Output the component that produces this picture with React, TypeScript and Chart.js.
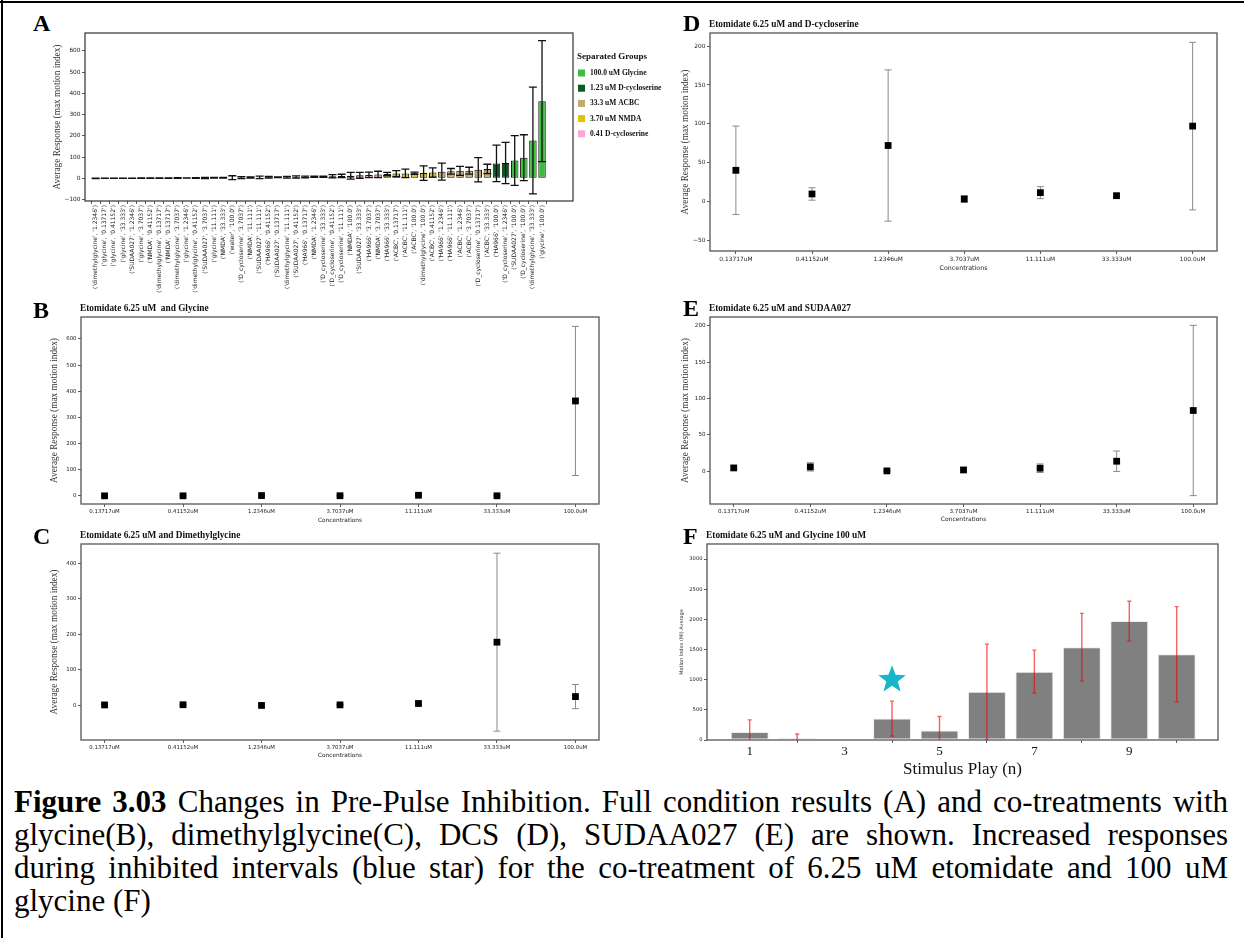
import React, { useEffect, useRef } from "react";
import { Chart, registerables } from "chart.js";

Chart.register(...registerables);

const SERIF = "'Liberation Serif', 'Times New Roman', serif";
const SANS = "'DejaVu Sans', sans-serif";

// ---------------- Panel A : all conditions, sorted ----------------
const labelsA = [
  "('dimethylglycine', '1.2346')", "('glycine', '0.13717')", "('glycine', '0.41152')", "('glycine', '33.333')",
  "('SUDAA027', '1.2346')", "('glycine', '3.7037')", "('NMDA', '0.41152')", "('dimethylglycine', '0.13717')",
  "('NMDA', '0.13717')", "('dimethylglycine', '3.7037')", "('glycine', '1.2346')", "('dimethylglycine', '0.41152')",
  "('SUDAA027', '3.7037')", "('glycine', '11.111')", "('NMDA', '33.333')", "('water', '100.0')",
  "('D_cycloserine', '3.7037')", "('NMDA', '11.111')", "('SUDAA027', '11.111')", "('HA966', '0.41152')",
  "('SUDAA027', '0.13717')", "('dimethylglycine', '11.111')", "('SUDAA027', '0.41152')", "('HA966', '0.13717')",
  "('NMDA', '1.2346')", "('D_cycloserine', '33.333')", "('D_cycloserine', '0.41152')", "('D_cycloserine', '11.111')",
  "('NMDA', '100.0')", "('SUDAA027', '33.333')", "('HA966', '3.7037')", "('NMDA', '3.7037')",
  "('HA966', '33.333')", "('ACBC', '0.13717')", "('ACBC', '11.111')", "('ACBC', '100.0')",
  "('dimethylglycine', '100.0')", "('ACBC', '0.41152')", "('HA966', '1.2346')", "('HA966', '11.111')",
  "('ACBC', '1.2346')", "('ACBC', '3.7037')", "('D_cycloserine', '0.13717')", "('ACBC', '33.333')",
  "('HA966', '100.0')", "('D_cycloserine', '1.2346')", "('SUDAA027', '100.0')", "('D_cycloserine', '100.0')",
  "('dimethylglycine', '33.333')", "('glycine', '100.0')",
];
const meansA = [
  -0.5, 0.2, 0.3, 0.4, 0.5, 0.6, 0.8, 0.9, 1.0, 1.1, 1.3, 1.5, 1.8, 2.4, 2.6, 2.8,
  3.0, 3.5, 4.2, 4.4, 4.6, 5.0, 6.0, 6.4, 6.8, 7.3, 9.5, 11.2, 12.0, 13.8, 16.0, 18.0,
  20.0, 22.0, 23.0, 24.0, 24.5, 27.0, 31.0, 33.0, 35.0, 36.0, 40.0, 44.0, 70.0, 72.0,
  83.5, 97.0, 178.0, 363.0,
];
const errsA = [
  0.8, 0.5, 0.5, 0.6, 0.6, 0.6, 1, 1, 1.2, 1.5, 1, 1.5, 2.8, 1.5, 2, 9,
  4.2, 3, 5.9, 4, 1.8, 4, 5.7, 4, 3, 2.8, 8, 7.7, 16, 14, 13, 15,
  8, 14, 20, 5, 34, 22, 40, 13, 21, 16, 57, 22, 86, 97,
  117, 108, 251, 285,
];
// group membership of each bar (0 = not in a separated group)
const groupA = [
  0, 0, 0, 0, 0, 0, 0, 0, 0, 0, 0, 0, 0, 0, 0, 0, 0, 0, 0, 0, 0, 0, 0, 0, 0, 0, 0,
  1, 1, 1, 1, 1,
  2, 2, 2, 2, 2, 2,
  3, 3, 3, 3, 3, 3,
  4, 4,
  5, 5, 5, 5,
];
const groupColors = ["#767676", "#f7a8d6", "#e0c20c", "#c2aa6c", "#0b5c1f", "#3dbd3d"];
const legendTitleA = "Separated Groups";
const legendNamesA = ["100.0 uM Glycine", "1.23 uM D-cycloserine", "33.3 uM ACBC", "3.70 uM NMDA", "0.41 D-cycloserine"];
const legendGroupsA = [5, 4, 3, 2, 1];
const yTicksA = [-100, 0, 100, 200, 300, 400, 500, 600];

// ---------------- Panels B-E : concentration series ----------------
const concLabels = ["0.13717uM", "0.41152uM", "1.2346uM", "3.7037uM", "11.111uM", "33.333uM", "100.0uM"];
const concIndex = [0, 1, 2, 3, 4, 5, 6];

const glyMeans = [0.2, 0.3, 1.3, 0.6, 2.4, 0.4, 363];
const glyErrs = [0.5, 0.5, 1, 0.6, 1.5, 0.6, 285];
const yTicksB = [0, 100, 200, 300, 400, 500, 600];

const dmgMeans = [0.9, 1.5, -0.5, 1.1, 5.0, 178, 24.5];
const dmgErrs = [1, 1.5, 0.8, 1.5, 4, 251, 34];
const yTicksC = [0, 100, 200, 300, 400];

const dcsMeans = [40, 9.5, 72, 3, 11.2, 7.3, 97];
const dcsErrs = [57, 8, 97.5, 4.2, 7.7, 2.8, 108];
const yTicksD = [-50, 0, 50, 100, 150, 200];

const sudMeans = [4.6, 6, 0.5, 1.8, 4.2, 13.8, 83.5];
const sudErrs = [1.8, 5.7, 0.6, 2.8, 5.9, 14, 117];
const yTicksE = [0, 50, 100, 150, 200];

// ---------------- Panel F : stimulus plays ----------------
const playN = [1, 2, 3, 4, 5, 6, 7, 8, 9, 10];
const fMeans = [133, 33, 0, 356, 156, 800, 1133, 1539, 1972, 1422];
const fErrs = [200, 67, 0, 289, 233, 789, 358, 561, 328, 789];
const xTicksF = [1, 3, 5, 7, 9];
const yTicksF = [0, 500, 1000, 1500, 2000, 2500, 3000];
const starPlay = 4;
const starValue = 1000;

const captionLines = [
  "Changes in Pre-Pulse Inhibition. Full condition results (A) and co-treatments with",
  "glycine(B), dimethylglycine(C), DCS (D), SUDAA027 (E) are shown. Increased responses",
  "during inhibited intervals (blue star) for the co-treatment of 6.25 uM etomidate and 100 uM",
  "glycine (F)",
];

// ---------------- helpers ----------------
const fmt = (v: number) => String(v).replace("-", "\u2212");

function drawErrors(chart: any, e: any) {
  const { ctx, chartArea: a } = chart;
  const meta = chart.getDatasetMeta(0);
  const ys = chart.scales.y;
  const data = chart.data.datasets[0].data;
  ctx.save();
  ctx.beginPath();
  ctx.rect(a.left, a.top, a.right - a.left, a.bottom - a.top);
  ctx.clip();
  ctx.strokeStyle = e.color;
  ctx.lineWidth = e.width;
  meta.data.forEach((el: any, i: number) => {
    const err = e.values[i];
    if (!err) return;
    const m = data[i].y;
    const x = el.x;
    const y1 = ys.getPixelForValue(m + err);
    const y2 = ys.getPixelForValue(m - err);
    ctx.beginPath();
    ctx.moveTo(x, y1);
    ctx.lineTo(x, y2);
    ctx.moveTo(x - e.cap, y1);
    ctx.lineTo(x + e.cap, y1);
    ctx.moveTo(x - e.cap, y2);
    ctx.lineTo(x + e.cap, y2);
    ctx.stroke();
  });
  ctx.restore();
}

function drawStar(chart: any, s: any) {
  const { ctx } = chart;
  const cx = chart.scales.x.getPixelForValue(s.x);
  const cy = chart.scales.y.getPixelForValue(s.y);
  ctx.save();
  ctx.beginPath();
  for (let k = 0; k < 10; k++) {
    const ang = -Math.PI / 2 + (k * Math.PI) / 5;
    const r = k % 2 === 0 ? s.r : s.r * 0.42;
    const px = cx + r * Math.cos(ang);
    const py = cy + r * Math.sin(ang);
    if (k === 0) ctx.moveTo(px, py);
    else ctx.lineTo(px, py);
  }
  ctx.closePath();
  ctx.fillStyle = s.color;
  ctx.fill();
  ctx.restore();
}

function makeDecor(o: any) {
  return {
    id: "figDecor",
    beforeDatasetsDraw(chart: any) {
      if (o.err && !o.err.onTop) drawErrors(chart, o.err);
    },
    afterDatasetsDraw(chart: any) {
      if (o.err && o.err.onTop) drawErrors(chart, o.err);
      if (o.star) drawStar(chart, o.star);
    },
    afterDraw(chart: any) {
      const { ctx, chartArea: a } = chart;
      ctx.save();
      ctx.strokeStyle = o.frameColor || "#444";
      ctx.lineWidth = o.frameWidth || 1.2;
      ctx.strokeRect(a.left, a.top, a.right - a.left, a.bottom - a.top);
      if (o.title) {
        ctx.fillStyle = "#111";
        ctx.textAlign = "left";
        ctx.textBaseline = "middle";
        ctx.font = `bold ${o.titleSize || 9.3}px ${SERIF}`;
        ctx.fillText(o.title, a.left - 1, a.top - 8);
      }
      if (o.legend) {
        const L = o.legend;
        const x0 = a.right + 4;
        ctx.textAlign = "left";
        ctx.textBaseline = "middle";
        ctx.fillStyle = "#111";
        ctx.font = `bold 9px ${SERIF}`;
        ctx.fillText(L.title, x0, a.top + 24);
        L.names.forEach((name: string, k: number) => {
          const cy = a.top + 40 + k * 15.2;
          ctx.fillStyle = L.colors[k];
          ctx.fillRect(x0 + 1, cy - 3.5, 7, 7);
          ctx.fillStyle = "#111";
          ctx.font = `bold 7.5px ${SERIF}`;
          ctx.fillText(name, x0 + 13, cy);
        });
      }
      ctx.restore();
    },
  };
}

function yAxis(p: any) {
  return {
    type: "linear",
    min: p.min,
    max: p.max,
    afterBuildTicks: (s: any) => {
      s.ticks = p.ticks.map((v: number) => ({ value: v }));
    },
    afterFit: (s: any) => {
      s.width = p.width;
    },
    border: { display: false },
    grid: { drawOnChartArea: false, drawTicks: true, tickLength: 3, color: "#333", lineWidth: 0.8 },
    ticks: { font: { family: SANS, size: p.tickSize }, color: "#222", padding: 1.5, callback: (v: number) => fmt(v) },
    title: { display: true, text: p.title, font: p.titleFont, color: "#333", padding: 0 },
  };
}

function concPanel(p: any) {
  return () => ({
    type: "scatter",
    data: {
      datasets: [
        {
          data: p.means.map((m: number, i: number) => ({ x: concIndex[i], y: m })),
          pointStyle: "rect",
          pointRadius: 4.8,
          pointHoverRadius: 4.8,
          backgroundColor: "#000",
          borderColor: "#000",
          borderWidth: 0,
        },
      ],
    },
    options: {
      responsive: false,
      animation: false,
      devicePixelRatio: 1,
      events: [],
      layout: { padding: { top: p.padTop, right: p.padRight, left: 0, bottom: 0 } },
      plugins: { legend: { display: false }, tooltip: { enabled: false } },
      scales: {
        x: {
          type: "linear",
          min: p.xMin,
          max: p.xMax,
          afterBuildTicks: (s: any) => {
            s.ticks = concIndex.map((v) => ({ value: v }));
          },
          afterFit: (s: any) => {
            s.height = p.xH;
          },
          border: { display: false },
          grid: { drawOnChartArea: false, drawTicks: true, tickLength: 3, color: "#333", lineWidth: 0.8 },
          ticks: { autoSkip: false, maxRotation: 0, font: { family: SANS, size: p.tickSize }, color: "#222", padding: 1.5, callback: (v: number) => concLabels[v] },
          title: { display: true, text: "Concentrations", font: { family: SANS, size: p.tickSize + 0.4 }, color: "#222", padding: 0 },
        },
        y: yAxis({
          min: p.yMin,
          max: p.yMax,
          ticks: p.yTicks,
          width: p.yW,
          tickSize: p.tickSize,
          title: "Average Response (max motion index)",
          titleFont: { family: SERIF, size: 9.3 },
        }),
      },
    },
    plugins: [
      makeDecor({
        title: p.title,
        titleSize: 9.3,
        frameColor: "#555",
        frameWidth: 1.3,
        err: { values: p.errs, color: "#8a8a8a", width: 1, cap: 3.5, onTop: false },
      }),
    ],
  });
}

const makeA = () => ({
  type: "bar",
  data: {
    datasets: [
      {
        data: meansA.map((m, i) => ({ x: i, y: m })),
        backgroundColor: groupA.map((g) => groupColors[g]),
        borderColor: "#111",
        borderWidth: 1,
        borderSkipped: false,
        barPercentage: 0.82,
        categoryPercentage: 1,
      },
    ],
  },
  options: {
    responsive: false,
    animation: false,
    devicePixelRatio: 1,
    events: [],
    layout: { padding: { top: 13, right: 107, left: 0, bottom: 0 } },
    plugins: { legend: { display: false }, tooltip: { enabled: false } },
    scales: {
      x: {
        type: "linear",
        offset: false,
        min: -1.17,
        max: 52.4,
        afterBuildTicks: (s: any) => {
          s.ticks = labelsA.map((_, i) => ({ value: i }));
        },
        afterFit: (s: any) => {
          s.height = 99;
        },
        border: { display: false },
        grid: { drawOnChartArea: false, drawTicks: true, tickLength: 3, color: "#333", lineWidth: 0.8 },
        ticks: { autoSkip: false, minRotation: 90, maxRotation: 90, font: { family: SANS, size: 6 }, color: "#222", padding: 1, callback: (v: number) => labelsA[v] },
      },
      y: yAxis({
        min: -107,
        max: 684,
        ticks: yTicksA,
        width: 33,
        tickSize: 5.8,
        title: "Average Response (max motion index)",
        titleFont: { family: SERIF, size: 9.3 },
      }),
    },
  },
  plugins: [
    makeDecor({
      frameColor: "#333",
      frameWidth: 1.2,
      err: { values: errsA, color: "#111", width: 1.3, cap: 4, onTop: true },
      legend: { title: legendTitleA, names: legendNamesA, colors: legendGroupsA.map((g) => groupColors[g]) },
    }),
  ],
});

const makeB = concPanel({ title: "Etomidate 6.25 uM  and Glycine", means: glyMeans, errs: glyErrs, xMin: -0.3, xMax: 6.3, yMin: -31, yMax: 684, yTicks: yTicksB, yW: 32, xH: 20, padTop: 19, padRight: 6, tickSize: 5.4 });
const makeC = concPanel({ title: "Etomidate 6.25 uM and Dimethylglycine", means: dmgMeans, errs: dmgErrs, xMin: -0.3, xMax: 6.3, yMin: -98, yMax: 455, yTicks: yTicksC, yW: 32, xH: 19, padTop: 19, padRight: 6, tickSize: 5.4 });
const makeD = concPanel({ title: "Etomidate 6.25 uM and D-cycloserine", means: dcsMeans, errs: dcsErrs, xMin: -0.34, xMax: 6.32, yMin: -64, yMax: 217, yTicks: yTicksD, yW: 30, xH: 21, padTop: 18, padRight: 6, tickSize: 5.9 });
const makeE = concPanel({ title: "Etomidate 6.25 uM and SUDAA027", means: sudMeans, errs: sudErrs, xMin: -0.31, xMax: 6.31, yMin: -45, yMax: 212, yTicks: yTicksE, yW: 30, xH: 19, padTop: 19, padRight: 6, tickSize: 5.6 });

const makeF = () => ({
  type: "bar",
  data: {
    datasets: [
      {
        data: fMeans.map((m, i) => ({ x: playN[i], y: m })),
        backgroundColor: "#808080",
        borderColor: "rgba(235,235,235,0.9)",
        borderWidth: 1,
        borderSkipped: false,
        barPercentage: 0.8,
        categoryPercentage: 1,
      },
    ],
  },
  options: {
    responsive: false,
    animation: false,
    devicePixelRatio: 1,
    events: [],
    layout: { padding: { top: 19, right: 6, left: 0, bottom: 0 } },
    plugins: { legend: { display: false }, tooltip: { enabled: false } },
    scales: {
      x: {
        type: "linear",
        offset: false,
        min: 0.1,
        max: 10.87,
        afterBuildTicks: (s: any) => {
          s.ticks = xTicksF.map((v) => ({ value: v }));
        },
        afterFit: (s: any) => {
          s.height = 40;
        },
        border: { display: false },
        grid: { drawOnChartArea: false, drawTicks: true, tickLength: 3, color: "#333", lineWidth: 0.8 },
        ticks: { autoSkip: false, maxRotation: 0, font: { family: SERIF, size: 13 }, color: "#111", padding: 1 },
        title: { display: true, text: "Stimulus Play (n)", font: { family: SERIF, size: 17 }, color: "#111", padding: 0 },
      },
      y: yAxis({
        min: 0,
        max: 3250,
        ticks: yTicksF,
        width: 28,
        tickSize: 5.2,
        title: "Motion Index (MI) Average",
        titleFont: { family: SANS, size: 5 },
      }),
    },
  },
  plugins: [
    makeDecor({
      title: "Etomidate 6.25 uM and Glycine 100 uM",
      titleSize: 9.4,
      frameColor: "#555",
      frameWidth: 1.3,
      err: { values: fErrs, color: "rgba(240,0,0,0.62)", width: 1.4, cap: 2, onTop: true },
      star: { x: starPlay, y: starValue, r: 14.5, color: "#17b6cb" },
    }),
  ],
});

function ChartBox({ left, top, width, height, make }: any) {
  const ref = useRef<HTMLCanvasElement | null>(null);
  useEffect(() => {
    const chart = new Chart(ref.current as HTMLCanvasElement, make() as any);
    return () => chart.destroy();
  }, [make]);
  return <canvas ref={ref} width={width} height={height} style={{ position: "absolute", left, top, width, height }} />;
}

const letterStyle = (left: number, top: number): React.CSSProperties => ({
  position: "absolute",
  left,
  top,
  font: `bold 24px ${SERIF}`,
  lineHeight: "24px",
  color: "#000",
});

export default function App() {
  return (
    <div style={{ position: "absolute", left: 0, top: 0, width: 1244, height: 938, background: "#fff", overflow: "hidden" }}>
      <div style={{ position: "absolute", left: 0, top: 1, width: 1244, height: 2, background: "#000" }} />
      <div style={{ position: "absolute", left: 1, top: 0, width: 2, height: 938, background: "#000" }} />

      <ChartBox left={52} top={20} width={628} height={280} make={makeA} />
      <ChartBox left={49} top={298} width={556} height={226} make={makeB} />
      <ChartBox left={49} top={525} width={556} height={234} make={makeC} />
      <ChartBox left={680} top={15} width={543} height={257} make={makeD} />
      <ChartBox left={680} top={298} width={543} height={225} make={makeE} />
      <ChartBox left={679} top={525} width={545} height={255} make={makeF} />

      <div style={letterStyle(33, 11)}>A</div>
      <div style={letterStyle(33, 298)}>B</div>
      <div style={letterStyle(33, 524)}>C</div>
      <div style={letterStyle(683, 11)}>D</div>
      <div style={letterStyle(683, 296)}>E</div>
      <div style={letterStyle(683, 524)}>F</div>

      <div style={{ position: "absolute", left: 14, top: 785, width: 1214, font: `31px ${SERIF}`, color: "#000" }}>
        {captionLines.map((line, i) => (
          <div
            key={i}
            style={{
              height: 33,
              lineHeight: "33px",
              whiteSpace: "nowrap",
              textAlign: i < captionLines.length - 1 ? "justify" : "left",
              textAlignLast: i < captionLines.length - 1 ? "justify" : "left",
            }}
          >
            {i === 0 ? (
              <>
                <b>Figure 3.03</b> {line}
              </>
            ) : (
              line
            )}
          </div>
        ))}
      </div>
    </div>
  );
}
